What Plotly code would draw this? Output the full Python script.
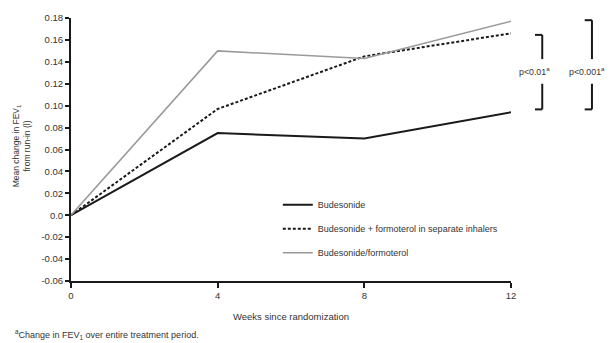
import plotly.graph_objects as go

weeks = [0, 4, 8, 12]
budesonide = [0.0, 0.075, 0.070, 0.094]
bud_form_separate = [0.0, 0.097, 0.145, 0.166]
bud_form_combined = [0.0, 0.150, 0.143, 0.177]

y_tickvals = [-0.06, -0.04, -0.02, 0.0, 0.02, 0.04, 0.06, 0.08, 0.10, 0.12, 0.14, 0.16, 0.18]
y_ticktext = ["-0.06", "-0.04", "-0.02", "0.0", "0.02", "0.04", "0.06", "0.08",
              "0.10", "0.12", "0.14", "0.16", "0.18"]
x_tickvals = [0, 4, 8, 12]

# significance brackets: (label, top value, bottom value)
bracket_labels = ["p<0.01<sup>a</sup>", "p<0.001<sup>a</sup>"]
bracket_top = [0.1646, 0.178]
bracket_bottom = [0.0966, 0.0966]
bracket_gap = [0.1425, 0.120]

FONT = "Liberation Sans, Arial, sans-serif"
TXT = "#333333"
INK = "#1a1a1a"

fig = go.Figure()
fig.add_trace(go.Scatter(x=weeks, y=budesonide, mode="lines", name="Budesonide",
                         line=dict(color=INK, width=2), legendgroup="a"))
fig.add_trace(go.Scatter(x=weeks, y=bud_form_separate, mode="lines",
                         name="Budesonide + formoterol in separate inhalers",
                         line=dict(color=INK, width=2, dash="3px,2px"), legendgroup="b"))
fig.add_trace(go.Scatter(x=weeks, y=bud_form_combined, mode="lines",
                         name="Budesonide/formoterol",
                         line=dict(color="#9a9a9a", width=1.5), legendgroup="c"))

px_pos = [1.071, 1.184]
label_pos = [1.0545, 1.172]
for i, xp in enumerate(px_pos):
    serif = 0.0165
    for seg in [(bracket_top[i], bracket_gap[0]), (bracket_gap[1], bracket_bottom[i])]:
        fig.add_shape(type="line", xref="paper", yref="y", x0=xp, x1=xp, y0=seg[0], y1=seg[1],
                      line=dict(color=INK, width=2))
    for yy in [bracket_top[i], bracket_bottom[i]]:
        fig.add_shape(type="line", xref="paper", yref="y", x0=xp - serif, x1=xp, y0=yy, y1=yy,
                      line=dict(color=INK, width=2))
    fig.add_annotation(xref="paper", yref="y", x=label_pos[i],
                       y=(bracket_gap[0] + bracket_gap[1]) / 2,
                       text=bracket_labels[i], showarrow=False, xanchor="center", yanchor="middle",
                       font=dict(size=8.8, color=TXT, family=FONT))

fig.add_annotation(xref="paper", yref="paper", x=-0.113, y=0.513,
                   text="Mean change in FEV<sub>1</sub><br>from run-in (l)", textangle=-90,
                   showarrow=False, xanchor="center", yanchor="middle",
                   font=dict(size=8.5, color=TXT, family=FONT))
fig.add_annotation(xref="paper", yref="paper", x=0.5, y=-0.136,
                   text="Weeks since randomization", showarrow=False,
                   xanchor="center", yanchor="middle", font=dict(size=9.5, color=TXT, family=FONT))
fig.add_annotation(xref="paper", yref="paper", x=-0.132, y=-0.204,
                   text="<sup>a</sup>Change in FEV<sub>1</sub> over entire treatment period.",
                   showarrow=False, xanchor="left", yanchor="middle",
                   font=dict(size=9, color=TXT, family=FONT))

fig.update_xaxes(range=[0, 12], tickvals=x_tickvals, showline=True, linecolor=INK,
                 linewidth=2, ticks="outside", ticklen=5, tickwidth=2, tickcolor=INK,
                 showgrid=False, zeroline=False, tickfont=dict(size=9.5, color=TXT, family=FONT))
fig.update_yaxes(range=[-0.06, 0.18], tickvals=y_tickvals, ticktext=y_ticktext, showline=True,
                 linecolor=INK, linewidth=2, ticks="outside", ticklen=4, tickwidth=2,
                 tickcolor=INK, showgrid=False, zeroline=False,
                 tickfont=dict(size=9.5, color=TXT, family=FONT))

fig.update_layout(
    width=612, height=343,
    margin=dict(l=71, r=101, t=16, b=62),
    paper_bgcolor="white", plot_bgcolor="white",
    legend=dict(x=0.47, y=0.345, xanchor="left", yanchor="top", bgcolor="rgba(0,0,0,0)",
                font=dict(size=9, color=TXT, family=FONT), itemwidth=30, tracegroupgap=5,
                traceorder="grouped"),
    showlegend=True,
)

fig.write_html("out.html", config={"displayModeBar": False},
               post_script="document.body.style.margin='0';document.body.style.overflow='hidden';")
